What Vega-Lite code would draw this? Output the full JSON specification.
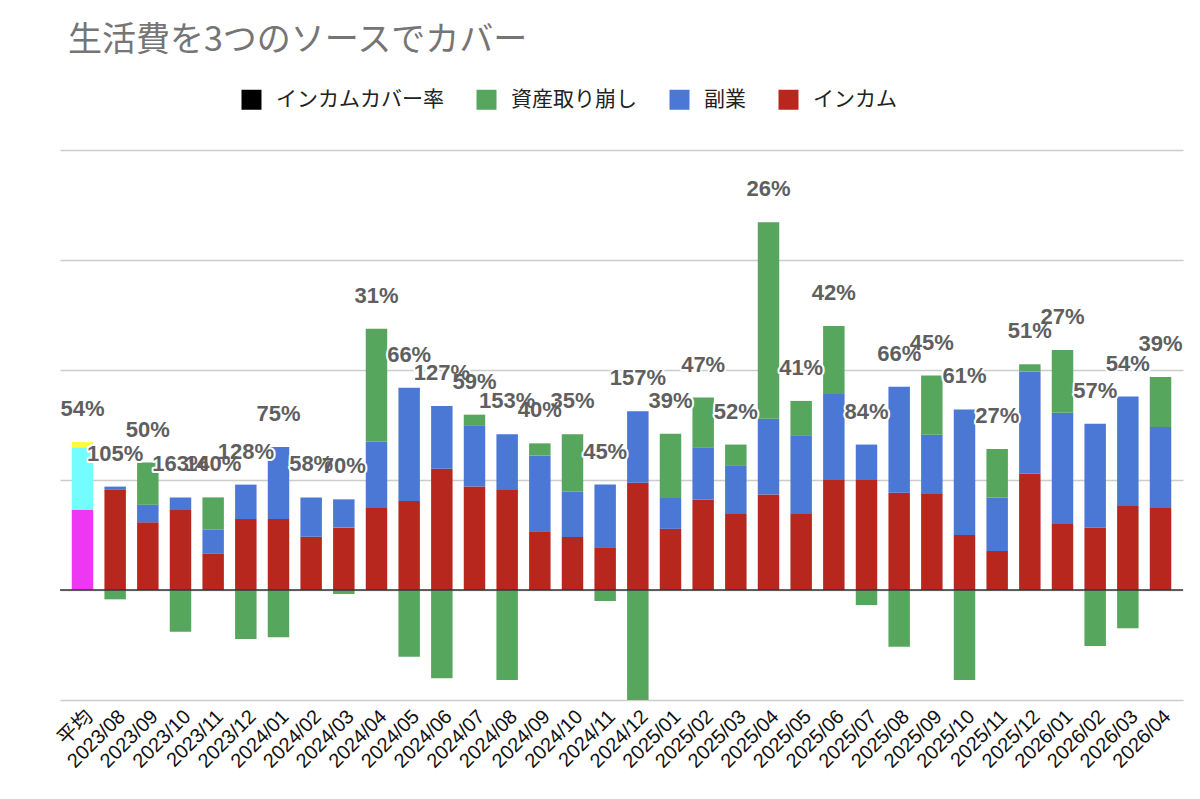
{
  "$schema": "https://vega.github.io/schema/vega-lite/v6.json",
  "autosize": "none",
  "width": 1123,
  "height": 550,
  "padding": {"left": 60, "top": 150, "right": 17, "bottom": 99},
  "background": "white",
  "title": {"text": "生活費を3つのソースでカバー", "anchor": "start", "frame": "group", "font": "Noto Sans CJK JP", "fontSize": 34, "fontWeight": "normal", "color": "#757575", "offset": 31, "dx": 8},
  "config": {"view": {"stroke": null}},
  "data": {"values": [
    {"month": "平均", "インカム": 72.7, "副業": 57, "資産取り崩し": 4.8, "rate": "54%"},
    {"month": "2023/08", "インカム": 91, "副業": 3, "資産取り崩し": -8.5, "rate": "105%"},
    {"month": "2023/09", "インカム": 61.5, "副業": 16.1, "資産取り崩し": 38.2, "rate": "50%"},
    {"month": "2023/10", "インカム": 72.7, "副業": 11.5, "資産取り崩し": -37.9, "rate": "163%"},
    {"month": "2023/11", "インカム": 33.3, "副業": 21.5, "資産取り崩し": 29.4, "rate": "140%"},
    {"month": "2023/12", "インカム": 64.5, "副業": 31.3, "資産取り崩し": -44.5, "rate": "128%"},
    {"month": "2024/01", "インカム": 64.5, "副業": 65.5, "資産取り崩し": -43, "rate": "75%"},
    {"month": "2024/02", "インカム": 48.5, "副業": 35.7, "資産取り崩し": 0, "rate": "58%"},
    {"month": "2024/03", "インカム": 56.7, "副業": 25.7, "資産取り崩し": -3.6, "rate": "70%"},
    {"month": "2024/04", "インカム": 74.5, "副業": 60.3, "資産取り崩し": 102.8, "rate": "31%"},
    {"month": "2024/05", "インカム": 80.9, "副業": 103, "資産取り崩し": -60.6, "rate": "66%"},
    {"month": "2024/06", "インカム": 110.3, "副業": 57, "資産取り崩し": -80.3, "rate": "127%"},
    {"month": "2024/07", "インカム": 94, "副業": 55.7, "資産取り崩し": 9.7, "rate": "59%"},
    {"month": "2024/08", "インカム": 91, "副業": 50.5, "資産取り崩し": -81.8, "rate": "153%"},
    {"month": "2024/09", "インカム": 53.3, "副業": 68.8, "資産取り崩し": 11.2, "rate": "40%"},
    {"month": "2024/10", "インカム": 48.2, "副業": 41.2, "資産取り崩し": 52.1, "rate": "35%"},
    {"month": "2024/11", "インカム": 38.8, "副業": 57, "資産取り崩し": -10, "rate": "45%"},
    {"month": "2024/12", "インカム": 97.6, "副業": 64.8, "資産取り崩し": -100, "rate": "157%"},
    {"month": "2025/01", "インカム": 55.6, "副業": 28.1, "資産取り崩し": 58.4, "rate": "39%"},
    {"month": "2025/02", "インカム": 82.2, "副業": 47.5, "資産取り崩し": 45.3, "rate": "47%"},
    {"month": "2025/03", "インカム": 69.1, "副業": 43.7, "資産取り崩し": 19.4, "rate": "52%"},
    {"month": "2025/04", "インカム": 86.9, "副業": 68.7, "資産取り崩し": 178.8, "rate": "26%"},
    {"month": "2025/05", "インカム": 69.1, "副業": 71.5, "資産取り崩し": 31.3, "rate": "41%"},
    {"month": "2025/06", "インカム": 100, "副業": 78.1, "資産取り崩し": 61.9, "rate": "42%"},
    {"month": "2025/07", "インカム": 100, "副業": 32.2, "資産取り崩し": -13.7, "rate": "84%"},
    {"month": "2025/08", "インカム": 88.4, "副業": 96.3, "資産取り崩し": -51.6, "rate": "66%"},
    {"month": "2025/09", "インカム": 87.2, "副業": 54, "資産取り崩し": 53.8, "rate": "45%"},
    {"month": "2025/10", "インカム": 50, "副業": 114.2, "資産取り崩し": -81.8, "rate": "61%"},
    {"month": "2025/11", "インカム": 35.5, "副業": 48.7, "資産取り崩し": 44, "rate": "27%"},
    {"month": "2025/12", "インカム": 105.8, "副業": 92.7, "資産取り崩し": 6.7, "rate": "51%"},
    {"month": "2026/01", "インカム": 60, "副業": 101.2, "資産取り崩し": 57, "rate": "27%"},
    {"month": "2026/02", "インカム": 56.7, "副業": 94.5, "資産取り崩し": -50.9, "rate": "57%"},
    {"month": "2026/03", "インカム": 76.4, "副業": 99.4, "資産取り崩し": -34.8, "rate": "54%"},
    {"month": "2026/04", "インカム": 74.5, "副業": 73.7, "資産取り崩し": 45.4, "rate": "39%"}
  ]},
  "layer": [
    {
      "transform": [{"fold": ["インカム", "副業", "資産取り崩し"], "as": ["series", "value"]}],
      "mark": {"type": "bar"},
      "encoding": {
        "x": {"field": "month", "type": "nominal", "sort": null,
              "scale": {"paddingInner": 0.343, "paddingOuter": 0.36},
              "axis": {"title": null, "labelAngle": -45, "labelAlign": "right", "labelBaseline": "top", "labelFontSize": 20, "labelFont": "Liberation Sans, Noto Sans CJK JP", "labelColor": "#111111", "ticks": false, "domain": false, "grid": false, "labelPadding": 6}},
        "y": {"field": "value", "type": "quantitative", "stack": "zero",
              "scale": {"domain": [-100, 400], "nice": false},
              "axis": {"title": null, "values": [-100, 0, 100, 200, 300, 400], "labels": false, "ticks": false, "domain": false, "grid": true, "gridColor": "#cccccc", "gridWidth": 1.5}},
        "order": {"field": "series", "type": "ordinal", "sort": "ascending"},
        "color": {"field": "series", "type": "nominal",
                  "scale": {"domain": ["インカムカバー率", "資産取り崩し", "副業", "インカム"], "range": ["#000000", "#57a65e", "#4a78d4", "#b8271e"]},
                  "legend": {"title": null, "orient": "none", "legendX": 181, "legendY": -61, "direction": "horizontal", "symbolType": "square", "symbolSize": 400, "symbolStrokeWidth": 0, "labelFont": "Noto Sans CJK JP", "labelFontSize": 21, "labelColor": "#222222", "labelLimit": 400, "labelOffset": 14, "columnPadding": 32},
                  "condition": [
                    {"test": "datum.month === '平均' && datum.series === 'インカム'", "value": "#ee37f2"},
                    {"test": "datum.month === '平均' && datum.series === '副業'", "value": "#73fdff"},
                    {"test": "datum.month === '平均' && datum.series === '資産取り崩し'", "value": "#fffb3c"}
                  ]}
      }
    },
    {
      "data": {"values": [{}]},
      "mark": {"type": "rule", "color": "#333333", "strokeWidth": 1.5},
      "encoding": {"y": {"datum": 0, "type": "quantitative"}}
    },
    {
      "transform": [
        {"fold": ["インカム", "副業", "資産取り崩し"], "as": ["series", "value"]},
        {"filter": "datum.value > 0"},
        {"joinaggregate": [{"op": "sum", "field": "value", "as": "top"}], "groupby": ["month"]},
        {"filter": "datum.series === 'インカム'"}
      ],
      "mark": {"type": "text", "dy": -33, "baseline": "middle", "align": "center", "font": "Liberation Sans", "fontSize": 22, "fontWeight": "bold", "fill": "white", "stroke": "white", "strokeWidth": 4, "strokeJoin": "round"},
      "encoding": {
        "x": {"field": "month", "type": "nominal", "sort": null},
        "y": {"field": "top", "type": "quantitative"},
        "text": {"field": "rate"}
      }
    },
    {
      "transform": [
        {"fold": ["インカム", "副業", "資産取り崩し"], "as": ["series", "value"]},
        {"filter": "datum.value > 0"},
        {"joinaggregate": [{"op": "sum", "field": "value", "as": "top"}], "groupby": ["month"]},
        {"filter": "datum.series === 'インカム'"}
      ],
      "mark": {"type": "text", "dy": -33, "baseline": "middle", "align": "center", "font": "Liberation Sans", "fontSize": 22, "fontWeight": "bold", "fill": "#5f5f5f"},
      "encoding": {
        "x": {"field": "month", "type": "nominal", "sort": null},
        "y": {"field": "top", "type": "quantitative"},
        "text": {"field": "rate"}
      }
    }
  ]
}
